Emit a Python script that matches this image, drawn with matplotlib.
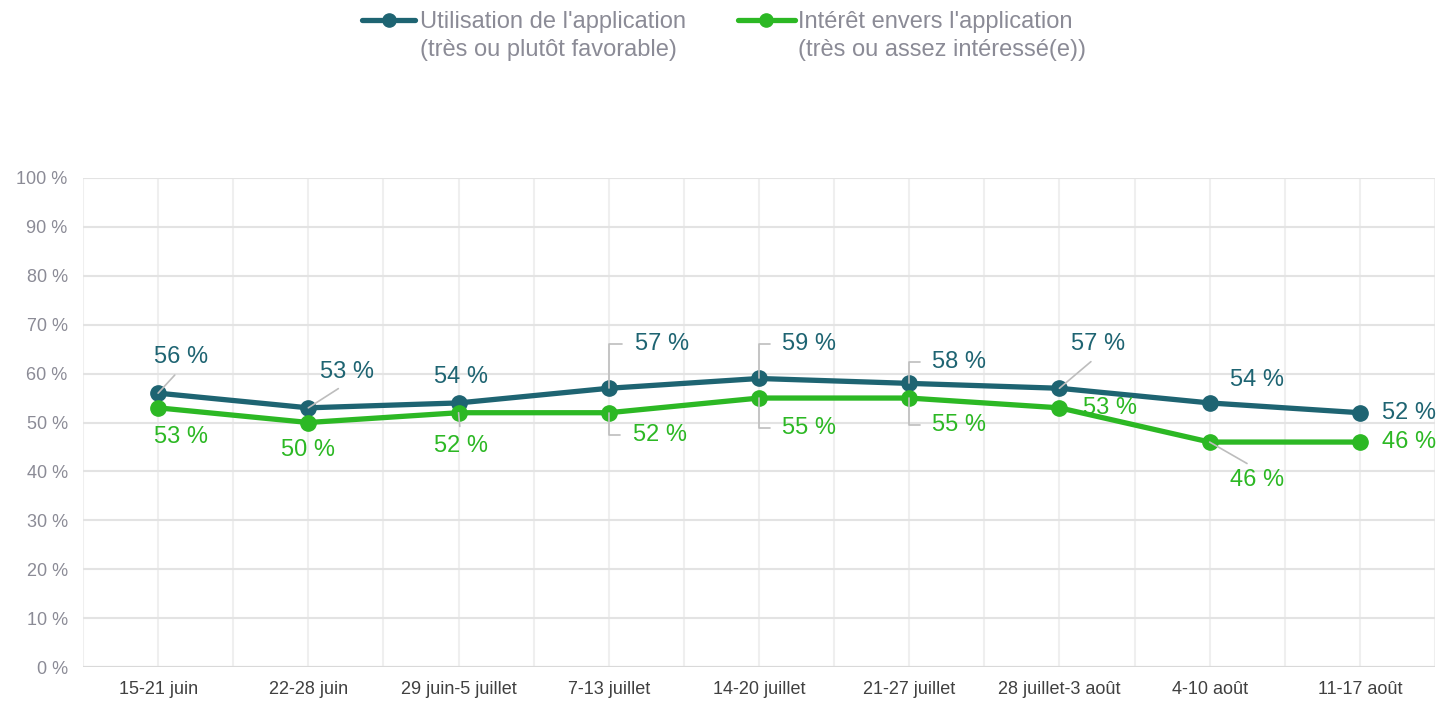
import matplotlib.pyplot as plt
from matplotlib.lines import Line2D

plt.rcParams['font.family'] = ['Liberation Sans', 'DejaVu Sans']

# data
weeks = ['15-21 juin', '22-28 juin', '29 juin-5 juillet', '7-13 juillet',
         '14-20 juillet', '21-27 juillet', '28 juillet-3 août', '4-10 août',
         '11-17 août']
usage = [56, 53, 54, 57, 59, 58, 57, 54, 52]
interest = [53, 50, 52, 52, 55, 55, 53, 46, 46]
usage_label = "Utilisation de l'application\n(très ou plutôt favorable)"
interest_label = "Intérêt envers l'application\n(très ou assez intéressé(e))"

TEAL = '#1e6472'
GREEN = '#2cb824'
LEADER = '#bdbdbd'
GREY_TXT = '#8b8b96'

# label placement: (dx, dy) in pixels, leader kind
usage_pos = [((23, 36), 'diag_up'), ((39, 36), 'diag_up'), ((2, 26), None),
             ((53, 44), 'elbow'), ((50, 34), 'elbow'), ((50, 21), 'elbow'),
             ((39, 44), 'diag_up'), ((47, 23), None), ((49, 0), None)]
interest_pos = [((23, -29), None), ((0, -27), None), ((2, -33), 'diag_down'),
                ((51, -22), 'elbow'), ((50, -30), 'elbow'), ((50, -27), 'elbow'),
                ((51, 0), None), ((47, -38), 'diag_down'), ((49, 0), None)]

W, H = 1443, 702
fig = plt.figure(figsize=(W / 100, H / 100), dpi=100)
ax = fig.add_axes([83 / W, 1 - 667 / H, (1435 - 83) / W, (667 - 178) / H])

x = list(range(len(weeks)))
ax.plot(x, usage, color=TEAL, lw=3.8, marker='o', ms=11, zorder=3,
        solid_capstyle='round')
ax.plot(x, interest, color=GREEN, lw=3.8, marker='o', ms=11, zorder=3,
        solid_capstyle='round')


def label_points(values, positions, color):
    for xi, (v, ((dx, dy), kind)) in enumerate(zip(values, positions)):
        kw = {}
        if kind == 'elbow':
            kw['arrowprops'] = dict(arrowstyle='-', color=LEADER, lw=1.2,
                                    relpos=(0, 0.5), shrinkA=7, shrinkB=0,
                                    connectionstyle='angle,angleA=0,angleB=90,rad=0')
        elif kind == 'diag_up':
            kw['arrowprops'] = dict(arrowstyle='-', color=LEADER, lw=1.2,
                                    relpos=(0.5, 0), shrinkA=4, shrinkB=0)
        elif kind == 'diag_down':
            kw['arrowprops'] = dict(arrowstyle='-', color=LEADER, lw=1.2,
                                    relpos=(0.5, 1), shrinkA=4, shrinkB=0)
        ax.annotate(f'{v} %', (xi, v), xytext=(dx * 0.72, dy * 0.72),
                    textcoords='offset points', ha='center', va='center',
                    fontsize=17, color=color, annotation_clip=False,
                    zorder=4, **kw)


label_points(usage, usage_pos, TEAL)
label_points(interest, interest_pos, GREEN)

ax.set_xlim(-0.5, len(weeks) - 0.5)
ax.set_ylim(0, 100)
ax.set_yticks(range(0, 101, 10))
ax.set_yticklabels([f'{t} %' for t in range(0, 101, 10)])
ax.set_xticks(x)
ax.set_xticklabels(weeks)
ax.set_xticks([i - 0.5 for i in range(len(weeks) + 1)], minor=True)
ax.tick_params(axis='y', length=0, pad=11, labelsize=13, labelcolor=GREY_TXT)
ax.tick_params(axis='x', which='both', length=0, pad=10, labelsize=13,
               labelcolor='#404040')
ax.grid(axis='y', color='#e3e3e3', lw=1.5, zorder=0)
ax.grid(axis='x', which='both', color='#efefef', lw=1.5, zorder=0)
ax.set_axisbelow(True)
for s in ax.spines.values():
    s.set_visible(False)
ax.axhline(0, color='#d9d9d9', lw=1.5, zorder=1)

# legend drawn by hand so the handle sits on the first text line
for (x0, x1, tx), col, lab in [((362, 415, 420), TEAL, usage_label),
                               ((738, 795, 798), GREEN, interest_label)]:
    yl = 1 - 20 / H
    fig.add_artist(Line2D([x0 / W, (x0 + x1) / 2 / W, x1 / W], [yl, yl, yl],
                          color=col, lw=3.8, marker='o', ms=9.5, markevery=[1],
                          solid_capstyle='round'))
    fig.text(tx / W, 1 - 36 / H, lab, ha='left', va='center', fontsize=17,
             color=GREY_TXT, linespacing=1.37)

fig.savefig('out.png', dpi=100)
